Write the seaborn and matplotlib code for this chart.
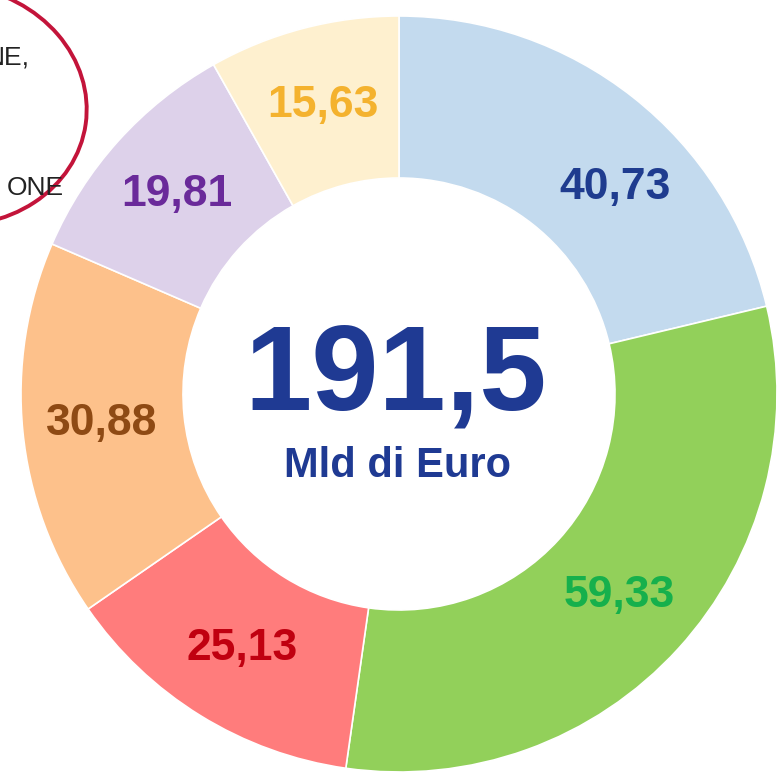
import matplotlib
matplotlib.use("Agg")
import numpy as np
import matplotlib.pyplot as plt
from matplotlib.patches import Ellipse
import seaborn as sns

# dati del grafico (Mld di Euro)
valori = [40.73, 59.33, 25.13, 30.88, 19.81, 15.63]
etichette = ["40,73", "59,33", "25,13", "30,88", "19,81", "15,63"]
colori = ["#C3DAEE", "#92D05A", "#FF7C7C", "#FDC18B", "#DDD1EA", "#FEF0CF"]
colori_testo = ["#1F3C8F", "#16B04C", "#C00010", "#8E4A14", "#6A2A9A", "#F4B22E"]
totale = "191,5"
unita = "Mld di Euro"

sns.set_theme(style="white")
plt.rcParams["font.family"] = ["Liberation Sans", "DejaVu Sans"]

W, H = 777, 772
fig = plt.figure(figsize=(W / 100, H / 100), dpi=100)
ax = fig.add_axes([0, 0, 1, 1])

cx, cy, R = 399, H - 394, 378
wedges, testi = ax.pie(
    valori, labels=etichette, colors=colori, startangle=90, counterclock=False,
    center=(cx, cy), radius=R, labeldistance=0.79, frame=True,
    wedgeprops=dict(width=R - 216, edgecolor="white", linewidth=1.2),
    textprops=dict(fontsize=32, fontweight="bold"),
)
for t, c in zip(testi, colori_testo):
    t.set_color(c)
    t.set_ha("center")
    t.set_va("center")

# etichetta 40,73 leggermente spostata in senso orario come nell'originale
x, y = testi[0].get_position()
a = np.deg2rad(-8)
dx, dy = x - cx, y - cy
testi[0].set_position((cx + dx * np.cos(a) - dy * np.sin(a),
                       cy + dx * np.sin(a) + dy * np.cos(a)))

ax.set_xlim(0, W)
ax.set_ylim(0, H)
ax.set_aspect("equal")
ax.axis("off")

# testo centrale
ax.text(cx - 3, H - 410, totale, fontsize=87, fontweight="bold", color="#1F3A93",
        ha="center", va="baseline")
ax.text(cx - 2, H - 477, unita, fontsize=30, fontweight="bold", color="#1F3A93",
        ha="center", va="baseline")

# annotazione tagliata in alto a sinistra
ax.text(30, H - 64, "NE,", fontsize=19, color="#222222", ha="right", va="baseline")
ax.text(64, H - 195, "ONE", fontsize=19, color="#222222", ha="right", va="baseline")
ax.add_patch(Ellipse((-50, H - 105), 274, 240, angle=-8, fill=False,
                     edgecolor="#C3143A", linewidth=2.8))

fig.savefig("out.png", dpi=100, facecolor="white")
